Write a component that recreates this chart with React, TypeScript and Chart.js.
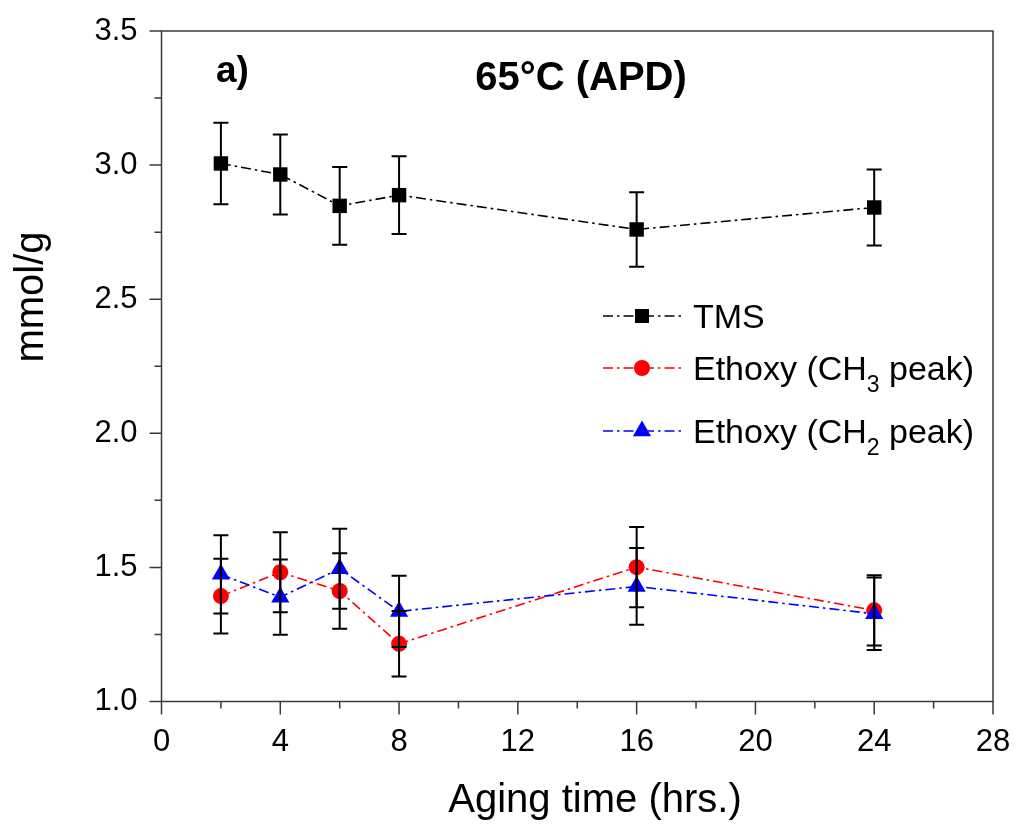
import React, { useEffect, useRef } from 'react';
import { Chart, registerables } from 'chart.js';

Chart.register(...registerables);

// ---- data ----
const hours = [2, 4, 6, 8, 16, 24];
const tmsValues = [3.006, 2.965, 2.848, 2.888, 2.76, 2.842];
const tmsErrors = [0.152, 0.149, 0.145, 0.145, 0.139, 0.142];
const ch3Values = [1.393, 1.482, 1.412, 1.215, 1.501, 1.34];
const ch3Errors = [0.139, 0.149, 0.141, 0.122, 0.15, 0.131];
const ch2Values = [1.474, 1.389, 1.495, 1.336, 1.429, 1.327];
const ch2Errors = [0.146, 0.14, 0.149, 0.133, 0.143, 0.135];

const xMinorTicks = [2, 6, 10, 14, 18, 22, 26];
const yMinorTicks = [1.25, 1.75, 2.25, 2.75, 3.25];

const seriesNames = ['TMS', 'Ethoxy (CH', 'Ethoxy (CH'];
const seriesSubs = ['', '3', '2'];
const seriesPost = ['', ' peak)', ' peak)'];
const seriesColors = ['#000000', '#ff0000', '#0000ff'];
const seriesShapes = ['rect', 'circle', 'triangle'];

const panelLabel = 'a)';
const chartTitle = '65°C (APD)';
const xTitle = 'Aging time (hrs.)';
const yTitle = 'mmol/g';

const FONT = "'Liberation Sans', Arial, sans-serif";
const AXIS_COLOR = '#3a3a3a';
const DASH = [10, 4, 2.5, 4];

function drawMarker(ctx: CanvasRenderingContext2D, shape: string, x: number, y: number, color: string) {
  ctx.save();
  ctx.fillStyle = color;
  ctx.beginPath();
  if (shape === 'rect') {
    ctx.rect(x - 7, y - 7, 14, 14);
  } else if (shape === 'circle') {
    ctx.arc(x, y, 8, 0, Math.PI * 2);
  } else {
    const r = 10.5;
    ctx.moveTo(x, y - r);
    ctx.lineTo(x + r * Math.sin((2 * Math.PI) / 3), y + r / 2);
    ctx.lineTo(x - r * Math.sin((2 * Math.PI) / 3), y + r / 2);
    ctx.closePath();
  }
  ctx.fill();
  ctx.restore();
}

const overlayPlugin = {
  id: 'overlay',
  afterDatasetsDraw(chart: any) {
    const { ctx, scales } = chart;
    const xs = scales.x;
    const ys = scales.y;
    const all = [
      [tmsValues, tmsErrors],
      [ch3Values, ch3Errors],
      [ch2Values, ch2Errors],
    ];
    ctx.save();
    ctx.strokeStyle = '#000';
    ctx.lineWidth = 2;
    all.forEach(([vals, errs]) => {
      vals.forEach((v: number, i: number) => {
        const px = xs.getPixelForValue(hours[i]);
        const top = ys.getPixelForValue(v + errs[i]);
        const bot = ys.getPixelForValue(v - errs[i]);
        ctx.beginPath();
        ctx.moveTo(px, top);
        ctx.lineTo(px, bot);
        ctx.moveTo(px - 7.5, top);
        ctx.lineTo(px + 7.5, top);
        ctx.moveTo(px - 7.5, bot);
        ctx.lineTo(px + 7.5, bot);
        ctx.stroke();
      });
    });
    ctx.restore();
  },
  afterDraw(chart: any) {
    const { ctx, chartArea, scales } = chart;
    const xs = scales.x;
    const ys = scales.y;
    const { left, right, top, bottom } = chartArea;
    ctx.save();
    // frame
    ctx.strokeStyle = AXIS_COLOR;
    ctx.lineWidth = 1.5;
    ctx.beginPath();
    ctx.rect(left, top, right - left, bottom - top);
    ctx.stroke();
    // ticks
    ctx.beginPath();
    xs.ticks.forEach((t: any) => {
      const px = xs.getPixelForValue(t.value);
      ctx.moveTo(px, bottom);
      ctx.lineTo(px, bottom + 13);
    });
    xMinorTicks.forEach((v) => {
      const px = xs.getPixelForValue(v);
      ctx.moveTo(px, bottom);
      ctx.lineTo(px, bottom + 7);
    });
    ys.ticks.forEach((t: any) => {
      const py = ys.getPixelForValue(t.value);
      ctx.moveTo(left, py);
      ctx.lineTo(left - 12, py);
    });
    yMinorTicks.forEach((v) => {
      const py = ys.getPixelForValue(v);
      ctx.moveTo(left, py);
      ctx.lineTo(left - 7, py);
    });
    ctx.stroke();

    // axis titles
    ctx.fillStyle = '#000';
    ctx.font = `40px ${FONT}`;
    ctx.textAlign = 'center';
    ctx.textBaseline = 'alphabetic';
    ctx.fillText(xTitle, 595, 812);
    ctx.save();
    ctx.translate(43, 297);
    ctx.rotate(-Math.PI / 2);
    ctx.fillText(yTitle, 0, 0);
    ctx.restore();

    // titles
    ctx.font = `bold 40px ${FONT}`;
    ctx.textAlign = 'center';
    ctx.fillText(chartTitle, 581, 90);
    ctx.font = `bold 37px ${FONT}`;
    ctx.textAlign = 'left';
    ctx.fillText(panelLabel, 216, 82);

    // legend
    const baselines = [328, 380, 443];
    seriesNames.forEach((name, i) => {
      const by = baselines[i];
      const ly = by - 12;
      ctx.save();
      ctx.strokeStyle = seriesColors[i];
      ctx.lineWidth = 1.6;
      ctx.setLineDash(DASH);
      ctx.beginPath();
      ctx.moveTo(603, ly);
      ctx.lineTo(681, ly);
      ctx.stroke();
      ctx.restore();
      drawMarker(ctx, seriesShapes[i], 642, ly, seriesColors[i]);
      ctx.fillStyle = '#000';
      ctx.textAlign = 'left';
      ctx.font = `34px ${FONT}`;
      ctx.fillText(name, 693, by);
      let x = 693 + ctx.measureText(name).width;
      if (seriesSubs[i]) {
        ctx.font = `23px ${FONT}`;
        ctx.fillText(seriesSubs[i], x, by + 12);
        x += ctx.measureText(seriesSubs[i]).width;
        ctx.font = `34px ${FONT}`;
        ctx.fillText(seriesPost[i], x, by);
      }
    });
    ctx.restore();
  },
};

export default function App() {
  const canvasRef = useRef<HTMLCanvasElement | null>(null);

  useEffect(() => {
    if (!canvasRef.current) return;
    const mk = (label: string, vals: number[], color: string, shape: string, radius: number) => ({
      label,
      data: hours.map((h, i) => ({ x: h, y: vals[i] })),
      borderColor: color,
      backgroundColor: color,
      borderWidth: 1.6,
      borderDash: DASH,
      pointStyle: shape,
      pointRadius: radius,
      pointBorderWidth: 0,
      pointBackgroundColor: color,
      pointBorderColor: color,
      tension: 0,
      fill: false,
      clip: false,
    });
    const chart = new Chart(canvasRef.current, {
      type: 'line',
      data: {
        datasets: [
          mk('TMS', tmsValues, seriesColors[0], 'rect', 10.2),
          mk('Ethoxy (CH2 peak)', ch2Values, seriesColors[2], 'triangle', 10.5),
          mk('Ethoxy (CH3 peak)', ch3Values, seriesColors[1], 'circle', 8),
        ],
      },
      options: {
        responsive: false,
        devicePixelRatio: 1,
        animation: false,
        layout: { padding: { left: 0, top: 31, right: 25, bottom: 0 } },
        plugins: { legend: { display: false }, tooltip: { enabled: false } },
        scales: {
          x: {
            type: 'linear',
            min: 0,
            max: 28,
            ticks: {
              stepSize: 4,
              color: '#000',
              padding: 0,
              font: { family: FONT, size: 31 },
              maxRotation: 0,
            },
            grid: { display: false, drawTicks: true, tickLength: 22 },
            border: { display: false },
            afterFit: (s: any) => {
              s.height = 123.5;
            },
          },
          y: {
            type: 'linear',
            min: 1,
            max: 3.5,
            ticks: {
              stepSize: 0.5,
              color: '#000',
              padding: 0,
              font: { family: FONT, size: 31 },
              callback: (v: any) => Number(v).toFixed(1),
            },
            grid: { display: false, drawTicks: true, tickLength: 24 },
            border: { display: false },
            afterFit: (s: any) => {
              s.width = 161.5;
            },
          },
        },
      } as any,
      plugins: [overlayPlugin],
    });
    return () => chart.destroy();
  }, []);

  return (
    <div style={{ position: 'fixed', left: 0, top: 0, width: 1018, height: 825, background: '#fff' }}>
      <canvas ref={canvasRef} width={1018} height={825} style={{ display: 'block' }} />
    </div>
  );
}
